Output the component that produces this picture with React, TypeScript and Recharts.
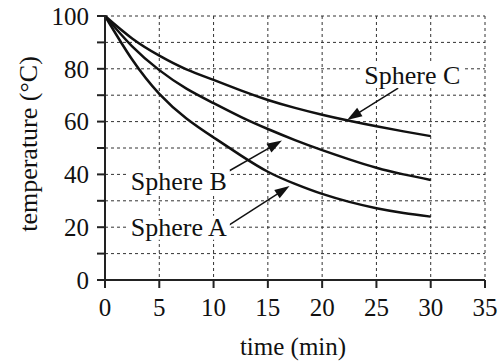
import React from 'react';
import { LineChart, Line, XAxis, YAxis, CartesianGrid, ReferenceLine, ReferenceDot } from 'recharts';

const times = [0, 2.5, 5, 7.5, 10, 12.5, 15, 17.5, 20, 22.5, 25, 27.5, 30];
const sphereA = [100, 83.5, 70.5, 61.2, 54.0, 47.2, 41.0, 36.4, 32.6, 29.6, 27.2, 25.4, 24];
const sphereB = [100, 88.5, 79.5, 72.5, 67.0, 61.8, 57.2, 53.0, 49.2, 45.7, 42.5, 40.0, 37.9];
const sphereC = [100, 91.5, 85.0, 79.8, 75.8, 71.8, 68.2, 65.2, 62.6, 60.3, 58.2, 56.3, 54.5];
const xTicks = [0, 5, 10, 15, 20, 25, 30, 35];
const yTicks = [0, 10, 20, 30, 40, 50, 60, 70, 80, 90, 100];

const labelNames = ['Sphere A', 'Sphere B', 'Sphere C'];
const labelPos = [
  { t: 6.8, T: 19.8 },
  { t: 6.8, T: 37.3 },
  { t: 28.3, T: 77.3 },
];
const arrows = [
  { from: { t: 11.2, T: 20.2 }, to: { t: 17.0, T: 35.6 } },
  { from: { t: 11.3, T: 41.0 }, to: { t: 16.3, T: 52.8 } },
  { from: { t: 27.0, T: 72.7 }, to: { t: 22.3, T: 60.6 } },
];

const data = times.map((t, i) => ({ t, A: sphereA[i], B: sphereB[i], C: sphereC[i] }));

const FONT = 'Liberation Serif, Times New Roman, DejaVu Serif, serif';
const INK = '#111';

const arrowShape = (props: any) => {
  const { x1, y1, x2, y2 } = props;
  const dx = x2 - x1;
  const dy = y2 - y1;
  const len = Math.hypot(dx, dy) || 1;
  const ux = dx / len;
  const uy = dy / len;
  const hl = 15;
  const hw = 5;
  const bx = x2 - ux * hl;
  const by = y2 - uy * hl;
  const px = -uy;
  const py = ux;
  return (
    <g>
      <line x1={x1} y1={y1} x2={bx + ux * 3} y2={by + uy * 3} stroke={INK} strokeWidth={1.5} />
      <polygon
        points={`${x2},${y2} ${bx + px * hw},${by + py * hw} ${bx - px * hw},${by - py * hw}`}
        fill={INK}
      />
    </g>
  );
};

const annot = (text: string) => (props: any) => {
  const vb = props.viewBox || {};
  const cx = (vb.x || 0) + (vb.width || 0) / 2;
  const cy = (vb.y || 0) + (vb.height || 0) / 2;
  const w = 102;
  return (
    <g>
      <rect x={cx - w / 2} y={cy - 12} width={w} height={24} fill="#fff" />
      <text x={cx} y={cy} textAnchor="middle" dominantBaseline="central" fill={INK} style={{ fontFamily: FONT, fontSize: 26 }}>
        {text}
      </text>
    </g>
  );
};

const YTitle = (props: any) => {
  const vb = props.viewBox || { x: 0, y: 16, width: 105, height: 264 };
  const x = vb.x + 28;
  const y = vb.y + vb.height / 2 - 4;
  return (
    <text x={x} y={y} transform={`rotate(-90, ${x}, ${y})`} textAnchor="middle" dominantBaseline="central" fill={INK} style={{ fontFamily: FONT, fontSize: 26 }}>
      temperature (°C)
    </text>
  );
};

const XTitle = (props: any) => {
  const vb = props.viewBox || { x: 105, y: 280, width: 380, height: 82 };
  const x = vb.x + vb.width / 2 - 2;
  const y = vb.y + 66;
  return (
    <text x={x} y={y} textAnchor="middle" dominantBaseline="central" fill={INK} style={{ fontFamily: FONT, fontSize: 25 }}>
      time (min)
    </text>
  );
};

export default function App() {
  return (
    <div style={{ position: 'absolute', left: 0, top: 0, width: 504, height: 362, background: '#fff', fontFamily: FONT }}>
      <LineChart width={504} height={362} data={data} margin={{ top: 16, right: 19, bottom: 0, left: 0 }} style={{ fontFamily: FONT }}>
        <CartesianGrid stroke="#333" strokeDasharray="3 3" strokeWidth={1} />
        <XAxis
          dataKey="t"
          type="number"
          domain={[0, 35]}
          ticks={xTicks}
          interval={0}
          height={82}
          tickSize={8}
          tickMargin={10}
          axisLine={{ stroke: '#222', strokeWidth: 2 }}
          tickLine={{ stroke: '#222', strokeWidth: 2 }}
          tick={{ fill: INK, fontSize: 25, fontFamily: FONT, style: { fontFamily: FONT } }}
          label={XTitle}
        />
        <YAxis
          type="number"
          domain={[0, 100]}
          ticks={yTicks}
          interval={0}
          width={105}
          tickSize={8}
          tickMargin={8}
          tickFormatter={(v: number) => (v % 20 === 0 ? String(v) : '')}
          axisLine={{ stroke: '#222', strokeWidth: 2 }}
          tickLine={{ stroke: '#222', strokeWidth: 2 }}
          tick={{ fill: INK, fontSize: 25, fontFamily: FONT, style: { fontFamily: FONT } }}
          label={YTitle}
        />
        <Line type="natural" dataKey="A" stroke={INK} strokeWidth={2.5} dot={false} isAnimationActive={false} />
        <Line type="natural" dataKey="B" stroke={INK} strokeWidth={2.5} dot={false} isAnimationActive={false} />
        <Line type="natural" dataKey="C" stroke={INK} strokeWidth={2.5} dot={false} isAnimationActive={false} />
        {arrows.map((a, i) => (
          <ReferenceLine
            key={`arrow-${i}`}
            segment={[{ x: a.from.t, y: a.from.T }, { x: a.to.t, y: a.to.T }]}
            shape={arrowShape}
            ifOverflow="visible"
          />
        ))}
        {labelPos.map((p, i) => (
          <ReferenceDot
            key={`lab-${i}`}
            x={p.t}
            y={p.T}
            r={1}
            fill="none"
            stroke="none"
            ifOverflow="visible"
            label={annot(labelNames[i])}
          />
        ))}
      </LineChart>
    </div>
  );
}
